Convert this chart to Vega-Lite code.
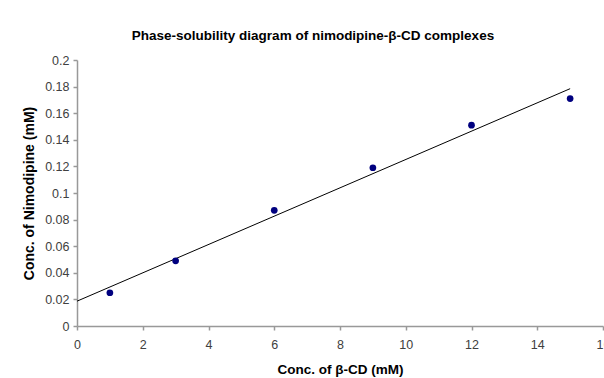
{
  "$schema": "https://vega.github.io/schema/vega-lite/v6.json",
  "width": 526,
  "height": 266,
  "autosize": {"type": "none"},
  "padding": {"left": 77, "top": 60, "right": 1, "bottom": 52},
  "background": "white",
  "title": {
    "text": "Phase-solubility diagram of nimodipine-β-CD complexes",
    "font": "Liberation Sans",
    "fontSize": 13.5,
    "fontWeight": "bold",
    "color": "#000000",
    "anchor": "middle",
    "dx": -27,
    "offset": 12
  },
  "data": {
    "values": [
      {"cd": 1, "nim": 0.025},
      {"cd": 3, "nim": 0.049},
      {"cd": 6, "nim": 0.087},
      {"cd": 9, "nim": 0.119},
      {"cd": 12, "nim": 0.151},
      {"cd": 15, "nim": 0.171}
    ]
  },
  "config": {
    "view": {"stroke": null},
    "axis": {
      "grid": false,
      "domainColor": "#999999",
      "domainWidth": 1.5,
      "tickColor": "#999999",
      "tickWidth": 1.5,
      "tickSize": 4,
      "labelFont": "Liberation Sans",
      "labelFontSize": 12.5,
      "labelColor": "#404040",
      "labelOverlap": false,
      "labelFlush": false,
      "titleFont": "Liberation Sans",
      "titleFontWeight": "bold",
      "titleColor": "#000000"
    }
  },
  "encoding": {
    "x": {
      "field": "cd",
      "type": "quantitative",
      "scale": {"domain": [0, 16], "nice": false},
      "axis": {
        "title": "Conc. of β-CD (mM)",
        "titleFontSize": 13.5,
        "values": [0, 2, 4, 6, 8, 10, 12, 14, 16],
        "format": "d",
        "labelPadding": 8,
        "titlePadding": 12
      }
    },
    "y": {
      "field": "nim",
      "type": "quantitative",
      "scale": {"domain": [0, 0.2], "nice": false},
      "axis": {
        "title": "Conc. of Nimodipine (mM)",
        "titleFontSize": 14,
        "values": [0, 0.02, 0.04, 0.06, 0.08, 0.1, 0.12, 0.14, 0.16, 0.18, 0.2],
        "labelExpr": "format(datum.value, '~g')",
        "labelOverlap": false,
        "labelPadding": 4,
        "titlePadding": 8
      }
    }
  },
  "layer": [
    {
      "transform": [
        {"regression": "nim", "on": "cd", "extent": [0, 15]}
      ],
      "mark": {"type": "line", "color": "#000000", "strokeWidth": 1}
    },
    {
      "mark": {"type": "point", "filled": true, "shape": "circle", "size": 45, "color": "#00007f", "opacity": 1}
    }
  ]
}
